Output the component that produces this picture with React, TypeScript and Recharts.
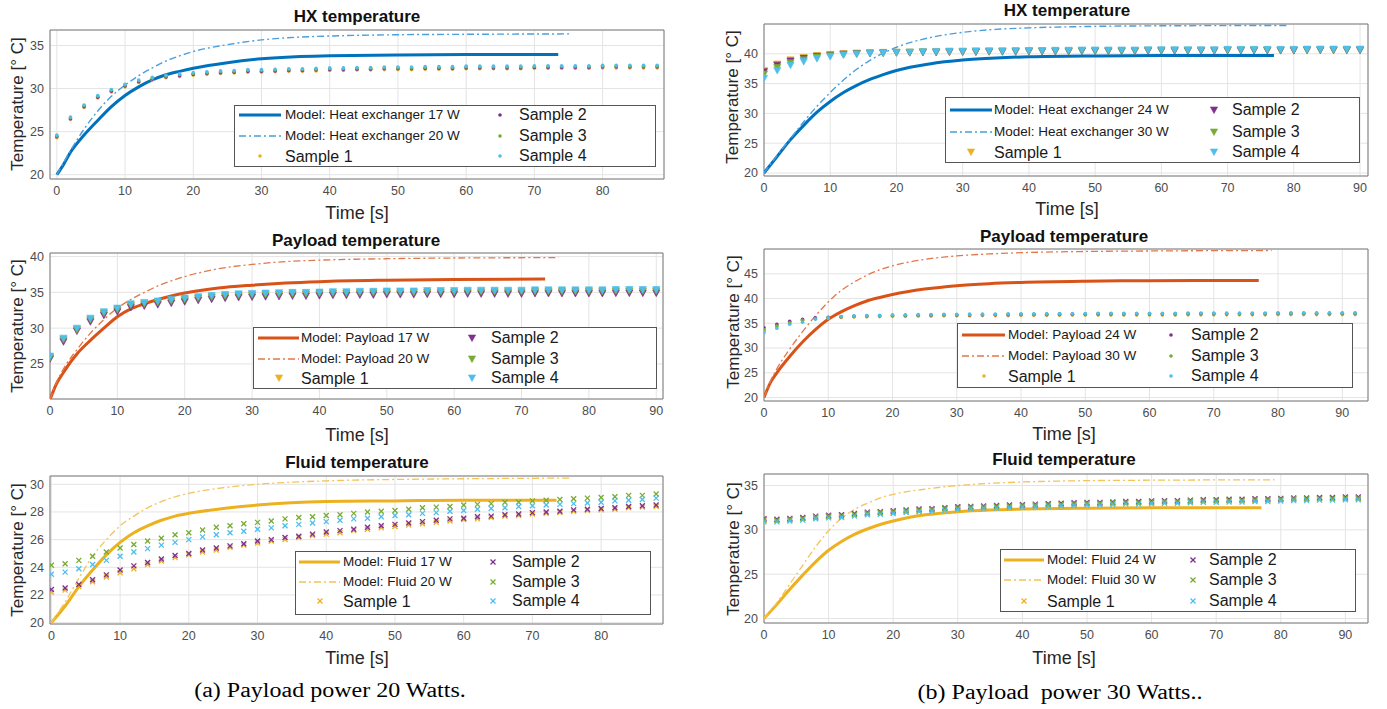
import React from "react";
import { ComposedChart, Line, Scatter, XAxis, YAxis, CartesianGrid, ReferenceArea } from "recharts";

// time grids of the measured samples
const t88 = [0, 2, 4, 6, 8, 10, 12, 14, 16, 18, 20, 22, 24, 26, 28, 30, 32, 34, 36, 38, 40, 42, 44, 46, 48, 50, 52, 54, 56, 58, 60, 62, 64, 66, 68, 70, 72, 74, 76, 78, 80, 82, 84, 86, 88];
const t90 = [...t88, 90];
const t92 = [...t88, 90, 92];

const xTicks80 = [0, 10, 20, 30, 40, 50, 60, 70, 80];
const xTicks90 = [0, 10, 20, 30, 40, 50, 60, 70, 80, 90];

// ---- (a) 20 W : HX ----
const hxA17 = [[0, 20], [1, 21.2], [2, 22.6], [4, 24.6], [6, 26.3], [8, 27.9], [10, 29.2], [12, 30.2], [14, 31.0], [16, 31.6], [18, 32.0], [20, 32.35], [25, 33.0], [30, 33.45], [35, 33.7], [40, 33.8], [50, 33.9], [60, 33.95], [73.5, 33.95]];
const hxA20 = [[0, 20], [1, 21.4], [2, 22.8], [4, 25.3], [6, 27.4], [8, 29.1], [10, 30.4], [12, 31.5], [14, 32.4], [16, 33.2], [18, 33.8], [20, 34.3], [25, 35.1], [30, 35.65], [35, 35.95], [40, 36.1], [50, 36.25], [60, 36.3], [75.5, 36.35]];
const hxA_s1 = [24.3, 26.4, 27.8, 28.9, 29.6, 30.2, 30.7, 31.0, 31.25, 31.4, 31.55, 31.65, 31.75, 31.8, 31.9, 31.9, 31.95, 32.0, 32.0, 32.05, 32.1, 32.1, 32.15, 32.15, 32.2, 32.2, 32.2, 32.25, 32.25, 32.25, 32.3, 32.3, 32.3, 32.3, 32.3, 32.35, 32.35, 32.35, 32.35, 32.35, 32.4, 32.4, 32.4, 32.4, 32.4];
const hxA_s2 = [24.4, 26.5, 27.9, 29.0, 29.7, 30.3, 30.8, 31.1, 31.35, 31.5, 31.65, 31.75, 31.85, 31.9, 32.0, 32.0, 32.05, 32.1, 32.1, 32.15, 32.2, 32.2, 32.25, 32.25, 32.3, 32.3, 32.3, 32.35, 32.35, 32.35, 32.4, 32.4, 32.4, 32.4, 32.4, 32.45, 32.45, 32.45, 32.45, 32.45, 32.5, 32.5, 32.5, 32.5, 32.5];
const hxA_s3 = [24.5, 26.6, 28.0, 29.1, 29.8, 30.4, 30.9, 31.2, 31.45, 31.6, 31.75, 31.85, 31.95, 32.0, 32.1, 32.1, 32.15, 32.2, 32.2, 32.25, 32.3, 32.3, 32.35, 32.35, 32.4, 32.4, 32.4, 32.45, 32.45, 32.45, 32.5, 32.5, 32.5, 32.5, 32.5, 32.55, 32.55, 32.55, 32.55, 32.55, 32.6, 32.6, 32.6, 32.6, 32.6];
const hxA_s4 = [24.6, 26.7, 28.1, 29.2, 29.9, 30.5, 31.0, 31.3, 31.55, 31.7, 31.85, 31.95, 32.05, 32.1, 32.2, 32.2, 32.25, 32.3, 32.3, 32.35, 32.4, 32.4, 32.45, 32.45, 32.5, 32.5, 32.5, 32.55, 32.55, 32.55, 32.6, 32.6, 32.6, 32.6, 32.6, 32.65, 32.65, 32.65, 32.65, 32.65, 32.7, 32.7, 32.7, 32.7, 32.7];

// ---- (a) 20 W : payload ----
const plA17 = [[0, 20], [1, 22.3], [2, 23.8], [3, 25.2], [4, 26.4], [6, 28.3], [8, 30.0], [10, 31.6], [12, 32.7], [14, 33.4], [16, 34.0], [18, 34.5], [20, 34.9], [25, 35.6], [30, 36.0], [35, 36.3], [40, 36.5], [50, 36.7], [60, 36.8], [73.5, 36.85]];
const plA20 = [[0, 20], [1, 22.5], [2, 24.3], [4, 27.0], [6, 29.3], [8, 31.2], [10, 32.8], [12, 34.0], [14, 35.0], [16, 35.9], [18, 36.6], [20, 37.2], [25, 38.3], [30, 38.9], [35, 39.3], [40, 39.5], [50, 39.7], [60, 39.8], [75.5, 39.85]];
const plA_s1 = [25.8, 28.3, 29.7, 31.1, 32.0, 32.5, 33.1, 33.3, 33.5, 33.7, 33.9, 34.1, 34.25, 34.4, 34.5, 34.55, 34.6, 34.65, 34.7, 34.7, 34.75, 34.8, 34.8, 34.85, 34.85, 34.9, 34.9, 34.9, 34.95, 34.95, 34.95, 35.0, 35.0, 35.0, 35.0, 35.0, 35.05, 35.05, 35.05, 35.05, 35.05, 35.05, 35.1, 35.1, 35.1, 35.1];
const plA_s2 = [25.7, 28.1, 29.6, 30.9, 31.8, 32.3, 32.9, 33.1, 33.3, 33.5, 33.7, 33.9, 34.05, 34.2, 34.3, 34.35, 34.4, 34.45, 34.5, 34.5, 34.55, 34.6, 34.6, 34.65, 34.65, 34.7, 34.7, 34.7, 34.75, 34.75, 34.75, 34.8, 34.8, 34.8, 34.8, 34.8, 34.85, 34.85, 34.85, 34.85, 34.85, 34.85, 34.9, 34.9, 34.9, 34.9];
const plA_s3 = [25.9, 28.4, 29.8, 31.2, 32.1, 32.6, 33.2, 33.4, 33.6, 33.8, 34.0, 34.2, 34.35, 34.5, 34.6, 34.65, 34.7, 34.75, 34.8, 34.8, 34.85, 34.9, 34.9, 34.95, 34.95, 35.0, 35.0, 35.0, 35.05, 35.05, 35.05, 35.1, 35.1, 35.1, 35.1, 35.1, 35.15, 35.15, 35.15, 35.15, 35.15, 35.15, 35.2, 35.2, 35.2, 35.2];
const plA_s4 = [26.1, 28.6, 30.0, 31.4, 32.3, 32.8, 33.4, 33.6, 33.8, 34.0, 34.2, 34.4, 34.55, 34.7, 34.8, 34.85, 34.9, 34.95, 35.0, 35.0, 35.05, 35.1, 35.1, 35.15, 35.15, 35.2, 35.2, 35.2, 35.25, 35.25, 35.25, 35.3, 35.3, 35.3, 35.3, 35.3, 35.35, 35.35, 35.35, 35.35, 35.35, 35.35, 35.4, 35.4, 35.4, 35.4];

// ---- (a) 20 W : fluid ----
const flA17 = [[0, 20], [2, 21.2], [4, 22.6], [6, 23.8], [8, 24.9], [10, 25.8], [12, 26.5], [14, 27.0], [16, 27.4], [18, 27.7], [20, 27.9], [25, 28.25], [30, 28.5], [40, 28.75], [50, 28.8], [60, 28.85], [73.5, 28.85]];
const flA20 = [[0, 20], [2, 21.5], [4, 23.2], [6, 24.8], [8, 26.0], [10, 27.0], [12, 27.7], [14, 28.3], [16, 28.75], [18, 29.1], [20, 29.35], [25, 29.75], [30, 30.0], [40, 30.25], [50, 30.35], [60, 30.4], [75.5, 30.45]];
const flA_s1 = [22.2, 22.35, 22.6, 22.95, 23.3, 23.6, 23.9, 24.2, 24.45, 24.7, 24.9, 25.1, 25.25, 25.45, 25.6, 25.75, 25.9, 26.0, 26.15, 26.3, 26.4, 26.5, 26.65, 26.75, 26.85, 26.95, 27.05, 27.15, 27.25, 27.35, 27.45, 27.5, 27.6, 27.7, 27.75, 27.85, 27.9, 27.95, 28.05, 28.1, 28.15, 28.2, 28.3, 28.35, 28.4];
const flA_s2 = [22.4, 22.5, 22.75, 23.1, 23.45, 23.8, 24.1, 24.35, 24.6, 24.85, 25.0, 25.25, 25.4, 25.55, 25.7, 25.9, 26.0, 26.15, 26.25, 26.4, 26.55, 26.65, 26.75, 26.9, 27.0, 27.1, 27.2, 27.3, 27.4, 27.5, 27.55, 27.65, 27.7, 27.8, 27.85, 27.95, 28.0, 28.05, 28.15, 28.2, 28.25, 28.3, 28.4, 28.45, 28.5];
const flA_s3 = [24.15, 24.25, 24.5, 24.8, 25.1, 25.4, 25.65, 25.9, 26.1, 26.35, 26.5, 26.7, 26.9, 27.0, 27.15, 27.25, 27.35, 27.5, 27.6, 27.65, 27.75, 27.8, 27.9, 28.0, 28.05, 28.1, 28.2, 28.3, 28.35, 28.4, 28.5, 28.55, 28.6, 28.7, 28.7, 28.8, 28.85, 28.9, 28.95, 29.0, 29.05, 29.1, 29.2, 29.2, 29.3];
const flA_s4 = [23.5, 23.65, 23.9, 24.2, 24.5, 24.8, 25.1, 25.35, 25.6, 25.8, 26.0, 26.2, 26.35, 26.5, 26.6, 26.75, 26.85, 27.0, 27.1, 27.2, 27.3, 27.4, 27.5, 27.55, 27.65, 27.75, 27.8, 27.9, 27.95, 28.05, 28.1, 28.2, 28.25, 28.3, 28.4, 28.45, 28.5, 28.55, 28.6, 28.65, 28.7, 28.8, 28.85, 28.9, 29.0];

// ---- (b) 30 W : HX ----
const hxB24 = [[0, 20], [2, 22.8], [4, 25.6], [6, 28.0], [8, 30.2], [10, 32.0], [12, 33.5], [14, 34.7], [16, 35.7], [18, 36.5], [20, 37.2], [25, 38.3], [30, 38.95], [35, 39.3], [40, 39.5], [50, 39.65], [60, 39.7], [77, 39.7]];
const hxB30 = [[0, 20], [2, 23.0], [4, 25.8], [6, 28.6], [8, 31.2], [10, 33.5], [12, 35.6], [14, 37.4], [16, 38.9], [18, 40.1], [20, 41.1], [25, 42.7], [30, 43.6], [35, 44.1], [40, 44.35], [50, 44.6], [60, 44.7], [79, 44.75]];
const hxB_s1 = [37.2, 38.3, 39.0, 39.4, 39.7, 39.9, 40.05, 40.15, 40.2, 40.25, 40.3, 40.3, 40.35, 40.35, 40.4, 40.4, 40.4, 40.45, 40.45, 40.45, 40.5, 40.5, 40.5, 40.5, 40.55, 40.55, 40.55, 40.55, 40.55, 40.6, 40.6, 40.6, 40.6, 40.6, 40.6, 40.65, 40.65, 40.65, 40.65, 40.65, 40.65, 40.7, 40.7, 40.7, 40.7, 40.7];
const hxB_s2 = [37.0, 38.1, 38.8, 39.25, 39.6, 39.8, 39.95, 40.05, 40.1, 40.15, 40.2, 40.2, 40.25, 40.25, 40.3, 40.3, 40.3, 40.35, 40.35, 40.35, 40.4, 40.4, 40.4, 40.4, 40.45, 40.45, 40.45, 40.45, 40.45, 40.5, 40.5, 40.5, 40.5, 40.5, 40.5, 40.55, 40.55, 40.55, 40.55, 40.55, 40.55, 40.6, 40.6, 40.6, 40.6, 40.6];
const hxB_s3 = [36.6, 37.7, 38.5, 39.0, 39.45, 39.7, 39.9, 40.0, 40.1, 40.15, 40.2, 40.25, 40.3, 40.3, 40.35, 40.35, 40.35, 40.4, 40.4, 40.4, 40.45, 40.45, 40.45, 40.45, 40.5, 40.5, 40.5, 40.5, 40.5, 40.55, 40.55, 40.55, 40.55, 40.55, 40.55, 40.6, 40.6, 40.6, 40.6, 40.6, 40.6, 40.65, 40.65, 40.65, 40.65, 40.65];
const hxB_s4 = [35.9, 37.2, 38.1, 38.7, 39.2, 39.55, 39.8, 39.95, 40.05, 40.15, 40.25, 40.3, 40.35, 40.4, 40.45, 40.45, 40.5, 40.5, 40.5, 40.55, 40.55, 40.55, 40.6, 40.6, 40.65, 40.65, 40.65, 40.65, 40.65, 40.7, 40.7, 40.7, 40.7, 40.7, 40.7, 40.75, 40.75, 40.75, 40.75, 40.75, 40.75, 40.8, 40.8, 40.8, 40.8, 40.8];

// ---- (b) 30 W : payload ----
const plB24 = [[0, 20], [1, 23.0], [2, 25.0], [4, 28.3], [6, 31.2], [8, 33.7], [10, 35.8], [12, 37.3], [14, 38.5], [16, 39.5], [18, 40.2], [20, 40.8], [25, 41.9], [30, 42.6], [35, 43.0], [40, 43.25], [50, 43.5], [60, 43.6], [77, 43.65]];
const plB30 = [[0, 20], [1, 23.3], [2, 25.8], [4, 29.8], [6, 33.3], [8, 36.5], [10, 39.3], [12, 41.6], [14, 43.3], [16, 44.7], [18, 45.8], [20, 46.6], [25, 47.9], [30, 48.6], [35, 49.0], [40, 49.25], [50, 49.5], [60, 49.6], [79, 49.7]];
const plB_s1 = [33.5, 34.3, 35.0, 35.5, 35.9, 36.0, 36.15, 36.25, 36.3, 36.35, 36.4, 36.4, 36.45, 36.45, 36.5, 36.5, 36.5, 36.55, 36.55, 36.55, 36.6, 36.6, 36.6, 36.6, 36.65, 36.65, 36.65, 36.65, 36.65, 36.65, 36.65, 36.65, 36.65, 36.7, 36.7, 36.7, 36.7, 36.7, 36.7, 36.7, 36.75, 36.75, 36.75, 36.75, 36.75, 36.75, 36.75];
const plB_s2 = [34.1, 34.8, 35.4, 35.8, 36.1, 36.2, 36.3, 36.4, 36.45, 36.5, 36.55, 36.55, 36.6, 36.6, 36.65, 36.65, 36.65, 36.7, 36.7, 36.7, 36.75, 36.75, 36.75, 36.8, 36.8, 36.8, 36.85, 36.85, 36.85, 36.85, 36.85, 36.85, 36.85, 36.9, 36.9, 36.9, 36.9, 36.9, 36.9, 36.9, 36.95, 36.95, 36.95, 36.95, 36.95, 36.95, 36.95];
const plB_s3 = [33.7, 34.5, 35.1, 35.6, 35.95, 36.15, 36.3, 36.4, 36.45, 36.5, 36.55, 36.6, 36.6, 36.65, 36.65, 36.7, 36.7, 36.75, 36.75, 36.75, 36.8, 36.8, 36.8, 36.85, 36.85, 36.85, 36.9, 36.9, 36.9, 36.9, 36.9, 36.9, 36.9, 36.95, 36.95, 36.95, 36.95, 36.95, 36.95, 36.95, 37.0, 37.0, 37.0, 37.0, 37.0, 37.0, 37.0];
const plB_s4 = [33.1, 34.0, 34.8, 35.2, 35.8, 36.1, 36.35, 36.5, 36.55, 36.6, 36.7, 36.7, 36.75, 36.75, 36.8, 36.8, 36.85, 36.85, 36.85, 36.9, 36.9, 36.9, 36.95, 36.95, 36.95, 36.95, 37.0, 37.0, 37.0, 37.0, 37.0, 37.0, 37.0, 37.05, 37.05, 37.05, 37.05, 37.05, 37.05, 37.05, 37.1, 37.1, 37.1, 37.1, 37.1, 37.1, 37.1];

// ---- (b) 30 W : fluid ----
const flB24 = [[0, 20], [2, 21.6], [4, 23.3], [6, 24.9], [8, 26.4], [10, 27.7], [12, 28.7], [14, 29.5], [16, 30.1], [18, 30.6], [20, 31.0], [25, 31.7], [30, 32.05], [35, 32.25], [40, 32.35], [50, 32.45], [60, 32.5], [77, 32.5]];
const flB30 = [[0, 20], [2, 21.8], [4, 23.9], [6, 26.0], [8, 28.1], [10, 29.9], [12, 31.3], [14, 32.3], [16, 33.0], [18, 33.6], [20, 34.0], [25, 34.6], [30, 35.0], [35, 35.25], [40, 35.4], [50, 35.55], [60, 35.6], [79, 35.65]];
const flB_s1 = [31.1, 31.05, 31.15, 31.25, 31.4, 31.5, 31.55, 31.7, 31.85, 31.9, 32.0, 32.1, 32.2, 32.25, 32.35, 32.45, 32.5, 32.55, 32.6, 32.65, 32.7, 32.75, 32.8, 32.85, 32.9, 32.95, 32.95, 33.0, 33.05, 33.05, 33.1, 33.15, 33.15, 33.2, 33.25, 33.25, 33.3, 33.3, 33.35, 33.35, 33.4, 33.45, 33.45, 33.5, 33.5, 33.55, 33.55];
const flB_s2 = [31.25, 31.2, 31.3, 31.4, 31.55, 31.65, 31.7, 31.85, 32.0, 32.05, 32.15, 32.25, 32.35, 32.4, 32.5, 32.6, 32.65, 32.7, 32.75, 32.8, 32.85, 32.9, 32.95, 33.0, 33.05, 33.1, 33.1, 33.15, 33.2, 33.2, 33.25, 33.3, 33.3, 33.35, 33.4, 33.4, 33.45, 33.45, 33.5, 33.5, 33.55, 33.6, 33.6, 33.65, 33.65, 33.7, 33.7];
const flB_s3 = [31.15, 31.1, 31.2, 31.3, 31.45, 31.55, 31.6, 31.75, 31.9, 31.95, 32.05, 32.15, 32.25, 32.3, 32.4, 32.5, 32.55, 32.6, 32.65, 32.7, 32.75, 32.8, 32.85, 32.9, 32.95, 33.0, 33.0, 33.05, 33.1, 33.1, 33.15, 33.2, 33.2, 33.25, 33.3, 33.3, 33.35, 33.35, 33.4, 33.4, 33.45, 33.5, 33.5, 33.55, 33.55, 33.6, 33.6];
const flB_s4 = [30.9, 30.9, 31.0, 31.1, 31.25, 31.35, 31.4, 31.55, 31.7, 31.75, 31.85, 31.95, 32.05, 32.1, 32.2, 32.3, 32.35, 32.4, 32.45, 32.5, 32.55, 32.6, 32.65, 32.7, 32.75, 32.8, 32.8, 32.85, 32.9, 32.9, 32.95, 33.0, 33.0, 33.05, 33.1, 33.1, 33.15, 33.15, 33.2, 33.2, 33.25, 33.3, 33.3, 33.35, 33.35, 33.4, 33.4];

const SAMPLE_COLORS = ["#EDB120", "#7E2F8E", "#77AC30", "#4DBEEE"];
const SANS = "'Liberation Sans', Arial, sans-serif";
const INK = "#262626";

type Pt = { t: number; v: number };
type Kind = "dot" | "tri" | "x";

const pts = (t: number[], v: number[]): Pt[] =>
  v.map((y, i) => ({ t: t[i], v: y })).filter((p) => p.t !== undefined);
const pairs = (a: number[][]): Pt[] => a.map(([t, v]) => ({ t, v }));

function Mark({ kind, cx, cy, color }: { kind: Kind; cx: number; cy: number; color: string }) {
  if (cx == null || cy == null) return null;
  if (kind === "dot") return <circle cx={cx} cy={cy} r={1.8} fill={color} />;
  if (kind === "tri")
    return (
      <path
        d={`M${cx - 3.6},${cy - 3} L${cx + 3.6},${cy - 3} L${cx},${cy + 3.6} Z`}
        fill={color}
        stroke={color}
        strokeWidth={0.6}
      />
    );
  return (
    <g stroke={color} strokeWidth={1.3}>
      <line x1={cx - 2.5} y1={cy - 2.5} x2={cx + 2.5} y2={cy + 2.5} />
      <line x1={cx - 2.5} y1={cy + 2.5} x2={cx + 2.5} y2={cy - 2.5} />
    </g>
  );
}

interface Model {
  data: Pt[];
  color: string;
  width: number;
  dash?: string;
  label: string;
}

interface LegendSpec {
  box: [number, number, number, number]; // x, y, w, h
  rows: [number, number, number];
  line: [number, number];
  text1: number;
  mark2: number;
  text2: number;
}

interface PanelProps {
  box: [number, number, number, number]; // x0, x1, y0, y1
  xDomain: [number, number];
  xTicks: number[];
  yDomain: [number, number];
  yTicks: number[];
  title: string;
  titlePos: [number, number];
  timePos: [number, number];
  tempPos: [number, number];
  models: Model[];
  samples: Pt[][];
  kind: Kind;
  legend: LegendSpec;
}

const YW = 45;
const XH = 26;
const MT = 6;
const MR = 6;

function centered(x: number, y: number, extra: React.CSSProperties = {}): React.CSSProperties {
  return {
    position: "absolute",
    left: x,
    top: y,
    transform: "translate(-50%, -50%)",
    whiteSpace: "pre",
    fontFamily: SANS,
    color: INK,
    lineHeight: 1,
    ...extra,
  };
}

function Legend({ spec, models, kind }: { spec: LegendSpec; models: Model[]; kind: Kind }) {
  const [bx, by, bw, bh] = spec.box;
  const lw = spec.line[1] - spec.line[0];
  const mid = (spec.line[0] + spec.line[1]) / 2;
  const textStyle = (x: number, y: number, size: number): React.CSSProperties => ({
    position: "absolute",
    left: x,
    top: y,
    transform: "translateY(-50%)",
    fontFamily: SANS,
    fontSize: size,
    color: "#1a1a1a",
    whiteSpace: "nowrap",
    lineHeight: 1,
  });
  const markSvg = (x: number, y: number, color: string, key: string) => (
    <svg key={key} width={12} height={12} style={{ position: "absolute", left: x - 6, top: y - 6 }}>
      <Mark kind={kind} cx={6} cy={6} color={color} />
    </svg>
  );
  return (
    <>
      <div
        style={{
          position: "absolute",
          left: bx,
          top: by,
          width: bw,
          height: bh,
          border: "1px solid #555",
          background: "#fff",
          boxSizing: "border-box",
        }}
      />
      {models.map((m, i) => (
        <React.Fragment key={m.label}>
          <svg width={lw} height={8} style={{ position: "absolute", left: spec.line[0], top: spec.rows[i] - 4 }}>
            <line x1={0} y1={4} x2={lw} y2={4} stroke={m.color} strokeWidth={m.width} strokeDasharray={m.dash} />
          </svg>
          <div style={textStyle(spec.text1, spec.rows[i], 13.5)}>{m.label}</div>
        </React.Fragment>
      ))}
      {markSvg(mid, spec.rows[2], SAMPLE_COLORS[0], "m1")}
      <div style={textStyle(spec.text1, spec.rows[2] + 1, 16)}>Sample 1</div>
      {[1, 2, 3].map((k, i) => (
        <React.Fragment key={k}>
          {markSvg(spec.mark2, spec.rows[i], SAMPLE_COLORS[k], "m" + k)}
          <div style={textStyle(spec.text2, spec.rows[i], 16)}>{`Sample ${k + 1}`}</div>
        </React.Fragment>
      ))}
    </>
  );
}

function Panel(p: PanelProps) {
  const [x0, x1, y0, y1] = p.box;
  const tick = { fontSize: 12.5, fill: "#4d4d4d", fontFamily: SANS };
  return (
    <>
      <div style={{ position: "absolute", left: x0 - YW, top: y0 - MT }}>
        <ComposedChart
          width={x1 - x0 + YW + MR}
          height={y1 - y0 + MT + XH}
          margin={{ top: MT, right: MR, left: 0, bottom: 0 }}
        >
          <CartesianGrid stroke="#e4e4e4" />
          <XAxis
            type="number"
            dataKey="t"
            domain={p.xDomain}
            ticks={p.xTicks}
            allowDataOverflow
            interval={0}
            axisLine={false}
            tickLine={false}
            tickSize={4}
            tickMargin={3}
            height={XH}
            tick={tick}
          />
          <YAxis
            type="number"
            dataKey="v"
            domain={p.yDomain}
            ticks={p.yTicks}
            allowDataOverflow
            interval={0}
            axisLine={false}
            tickLine={false}
            tickSize={3}
            tickMargin={3}
            width={YW}
            tick={tick}
          />
          {p.models.map((m) => (
            <Line
              key={m.label}
              data={m.data}
              dataKey="v"
              type="monotone"
              stroke={m.color}
              strokeWidth={m.width}
              strokeDasharray={m.dash}
              dot={false}
              activeDot={false}
              isAnimationActive={false}
            />
          ))}
          {p.samples.map((s, i) => (
            <Scatter
              key={i}
              data={s}
              fill={SAMPLE_COLORS[i]}
              isAnimationActive={false}
              shape={(sp: any) => <Mark kind={p.kind} cx={sp.cx} cy={sp.cy} color={SAMPLE_COLORS[i]} />}
            />
          ))}
          <ReferenceArea
            x1={p.xDomain[0]}
            x2={p.xDomain[1]}
            y1={p.yDomain[0]}
            y2={p.yDomain[1]}
            fill="none"
            stroke="#7a7a7a"
            strokeWidth={1}
            ifOverflow="visible"
          />
        </ComposedChart>
      </div>
      <div style={centered(p.titlePos[0], p.titlePos[1], { fontSize: 17, fontWeight: 700, color: "#111" })}>{p.title}</div>
      <div style={centered(p.timePos[0], p.timePos[1], { fontSize: 18 })}>Time [s]</div>
      <div style={centered(p.tempPos[0], p.tempPos[1], { fontSize: 17, transform: "translate(-50%, -50%) rotate(-90deg)" })}>
        Temperature [° C]
      </div>
      <Legend spec={p.legend} models={p.models} kind={p.kind} />
    </>
  );
}

const HX = "#0072BD";
const HX2 = "#4A9FDD";
const PL = "#D95319";
const PL2 = "#E2774A";
const FL = "#EDB120";
const FL2 = "#F2C45A";
const DASH = "7 3 2 3";

export default function App() {
  return (
    <div style={{ position: "absolute", left: 0, top: 0, width: 1387, height: 709, background: "#fff", overflow: "hidden" }}>
      <Panel
        box={[50, 664, 30, 179]}
        xDomain={[-1, 89]}
        xTicks={xTicks80}
        yDomain={[19.5, 36.8]}
        yTicks={[20, 25, 30, 35]}
        title="HX temperature"
        titlePos={[357, 16]}
        timePos={[357, 213]}
        tempPos={[17, 104]}
        kind="dot"
        models={[
          { data: pairs(hxA17), color: HX, width: 3, label: "Model: Heat exchanger 17 W" },
          { data: pairs(hxA20), color: HX2, width: 1.4, dash: DASH, label: "Model: Heat exchanger 20 W" },
        ]}
        samples={[pts(t88, hxA_s1), pts(t88, hxA_s2), pts(t88, hxA_s3), pts(t88, hxA_s4)]}
        legend={{ box: [234, 105, 422, 62], rows: [115, 136, 156], line: [239, 281], text1: 285, mark2: 500, text2: 519 }}
      />
      <Panel
        box={[50, 663, 253, 399]}
        xDomain={[0, 91]}
        xTicks={xTicks90}
        yDomain={[20.1, 40.5]}
        yTicks={[25, 30, 35, 40]}
        title="Payload temperature"
        titlePos={[356, 240]}
        timePos={[357, 435]}
        tempPos={[17, 326]}
        kind="tri"
        models={[
          { data: pairs(plA17), color: PL, width: 3, label: "Model: Payload 17 W" },
          { data: pairs(plA20), color: PL2, width: 1.3, dash: DASH, label: "Model: Payload 20 W" },
        ]}
        samples={[pts(t90, plA_s1), pts(t90, plA_s2), pts(t90, plA_s3), pts(t90, plA_s4)]}
        legend={{ box: [253, 327, 404, 62], rows: [338, 359, 378], line: [258, 299], text1: 301, mark2: 472, text2: 491 }}
      />
      <Panel
        box={[50, 663, 476, 624]}
        xDomain={[-0.2, 89]}
        xTicks={xTicks80}
        yDomain={[19.9, 30.6]}
        yTicks={[20, 22, 24, 26, 28, 30]}
        title="Fluid temperature"
        titlePos={[357, 462]}
        timePos={[357, 658]}
        tempPos={[17, 550]}
        kind="x"
        models={[
          { data: pairs(flA17), color: FL, width: 3, label: "Model: Fluid 17 W" },
          { data: pairs(flA20), color: FL2, width: 1.3, dash: DASH, label: "Model: Fluid 20 W" },
        ]}
        samples={[pts(t88, flA_s1), pts(t88, flA_s2), pts(t88, flA_s3), pts(t88, flA_s4)]}
        legend={{ box: [295, 551, 356, 64], rows: [562, 582, 601], line: [299, 340], text1: 343, mark2: 493, text2: 512 }}
      />
      <Panel
        box={[764, 1368, 24, 176]}
        xDomain={[0, 91.2]}
        xTicks={xTicks90}
        yDomain={[19.5, 45]}
        yTicks={[20, 25, 30, 35, 40]}
        title="HX temperature"
        titlePos={[1067, 10]}
        timePos={[1067, 209]}
        tempPos={[732, 97]}
        kind="tri"
        models={[
          { data: pairs(hxB24), color: HX, width: 3, label: "Model: Heat exchanger 24 W" },
          { data: pairs(hxB30), color: HX2, width: 1.4, dash: DASH, label: "Model: Heat exchanger 30 W" },
        ]}
        samples={[pts(t90, hxB_s1), pts(t90, hxB_s2), pts(t90, hxB_s3), pts(t90, hxB_s4)]}
        legend={{ box: [945, 97, 415, 66], rows: [110, 132, 152], line: [950, 992], text1: 994, mark2: 1214, text2: 1232 }}
      />
      <Panel
        box={[764, 1368, 249, 401]}
        xDomain={[0, 94]}
        xTicks={xTicks90}
        yDomain={[19.3, 50]}
        yTicks={[20, 25, 30, 35, 40, 45]}
        title="Payload temperature"
        titlePos={[1064, 236]}
        timePos={[1064, 434]}
        tempPos={[733, 322]}
        kind="dot"
        models={[
          { data: pairs(plB24), color: PL, width: 3, label: "Model: Payload 24 W" },
          { data: pairs(plB30), color: PL2, width: 1.3, dash: DASH, label: "Model: Payload 30 W" },
        ]}
        samples={[pts(t92, plB_s1), pts(t92, plB_s2), pts(t92, plB_s3), pts(t92, plB_s4)]}
        legend={{ box: [957, 323, 396, 65], rows: [335, 356, 376], line: [962, 1005], text1: 1008, mark2: 1171, text2: 1191 }}
      />
      <Panel
        box={[764, 1368, 474, 623]}
        xDomain={[0, 93.5]}
        xTicks={xTicks90}
        yDomain={[19.5, 36.3]}
        yTicks={[20, 25, 30, 35]}
        title="Fluid temperature"
        titlePos={[1064, 459]}
        timePos={[1064, 658]}
        tempPos={[733, 549]}
        kind="x"
        models={[
          { data: pairs(flB24), color: FL, width: 3, label: "Model: Fluid 24 W" },
          { data: pairs(flB30), color: FL2, width: 1.3, dash: DASH, label: "Model: Fluid 30 W" },
        ]}
        samples={[pts(t92, flB_s1), pts(t92, flB_s2), pts(t92, flB_s3), pts(t92, flB_s4)]}
        legend={{ box: [1000, 549, 356, 63], rows: [560, 580, 601], line: [1004, 1044], text1: 1047, mark2: 1193, text2: 1209 }}
      />
      <div style={centered(330, 690, { fontFamily: "'Liberation Serif', 'Times New Roman', serif", fontSize: 20, color: "#000", transform: "translate(-50%, -50%) scaleX(1.2)" })}>
        (a) Payload power 20 Watts.
      </div>
      <div style={centered(1060, 692, { fontFamily: "'Liberation Serif', 'Times New Roman', serif", fontSize: 20, color: "#000", transform: "translate(-50%, -50%) scaleX(1.2)" })}>
        (b) Payload  power 30 Watts..
      </div>
    </div>
  );
}
